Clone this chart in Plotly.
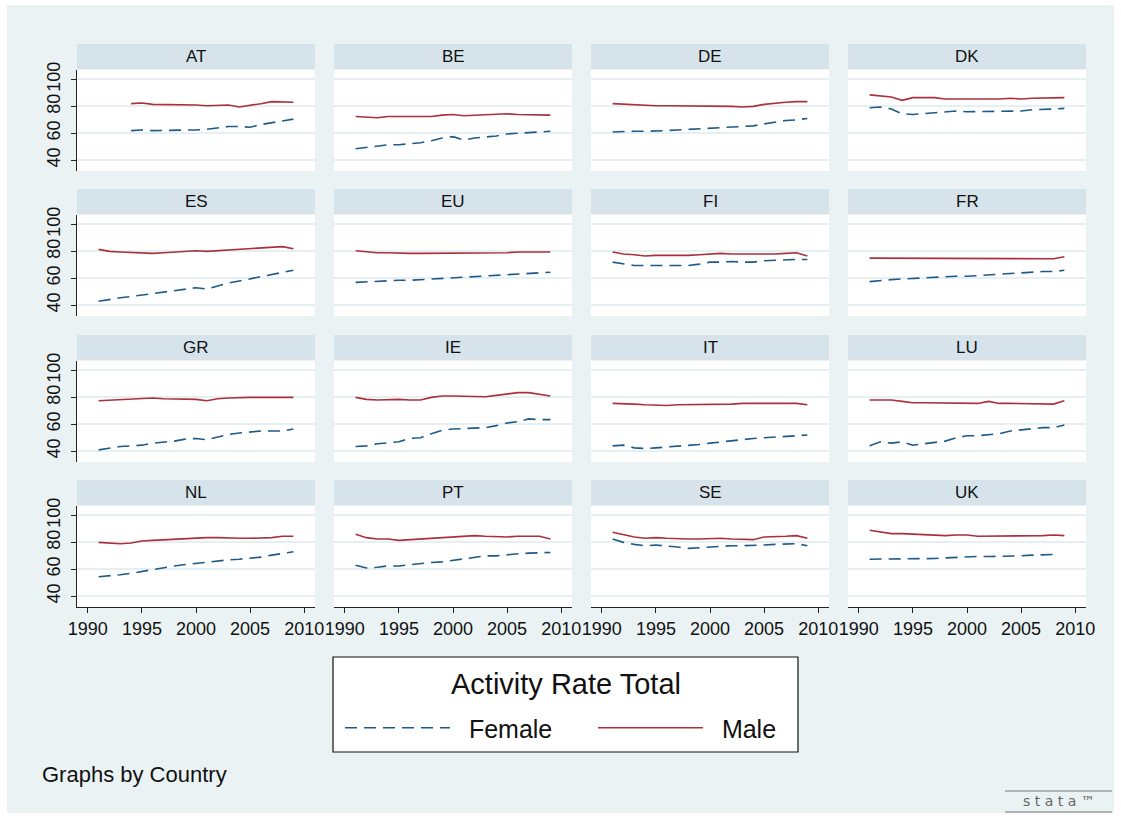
import plotly.graph_objects as go

# ---------------- data ----------------
years = list(range(1991, 2010))
countries = ["AT", "BE", "DE", "DK", "ES", "EU", "FI", "FR",
             "GR", "IE", "IT", "LU", "NL", "PT", "SE", "UK"]

male = {
    "AT": [None, None, None, 82, 82.5, 81.5, 81.5, 81, 81.5, 81, 80.5, 80.5, 81, 79.5, 80.5, 82, 83.5, 83, 83],
    "BE": [72.5, 72, 71.5, 72.5, 72.5, 72.5, 72.5, 72.5, 73.5, 74, 73, 73.5, 73.5, 74, 74.5, 74, 74, 74, 73.5],
    "DE": [82, 81.5, 81, 81, 80.5, 80.5, 80.5, 80.5, 80.5, 80, 80, 80, 79.5, 80, 81.5, 82.5, 83, 83.5, 83.5],
    "DK": [88.5, 88, 87, 84.5, 86.5, 86.5, 86.5, 85.5, 85.5, 85, 85, 85.5, 85.5, 86, 85.5, 86, 86, 86.5, 86.5],
    "ES": [81.5, 80, 79.5, 79, 78.5, 78.5, 79, 79.5, 80, 80.5, 80, 80.5, 81.5, 82, 82.5, 83, 83, 83.5, 82],
    "EU": [80.5, 79.5, 79, 79, 78.5, 78.5, 78.5, 78.5, 78.5, 78.5, 78.5, 78.5, 78.5, 78.5, 79, 79.5, 79.5, 80, 79.5],
    "FI": [79.5, 78, 77.5, 76.5, 77, 77, 76.5, 77, 77.5, 78, 78.5, 78, 78, 77.5, 77.5, 78, 78.5, 79, 76.5],
    "FR": [75, 75, 74.5, 74.5, 74.5, 75, 74.5, 74.5, 74.5, 74.5, 74.5, 74.5, 75, 75, 75, 75, 74.5, 74.5, 76],
    "GR": [77.5, 78, 78, 79, 79.5, 79.5, 79, 79, 78.5, 78.5, 77.5, 79, 79.5, 80, 80, 80, 80, 80, 80],
    "IE": [80, 78.5, 78, 78.5, 78.5, 78, 78, 80, 81, 81, 81, 80.5, 80.5, 81.5, 82.5, 83.5, 83.5, 82.5, 81],
    "IT": [75.5, 75.5, 75, 74.5, 74, 74, 74.5, 74.5, 74.5, 75, 75, 75, 75.5, 75.5, 75, 75.5, 75.5, 75.5, 74.5],
    "LU": [78, 78, 78, 77, 76, 76, 76, 76, 76, 76, 75.5, 77, 75.5, 75.5, 75.5, 75.5, 75, 75, 77.5],
    "NL": [80, 79.5, 79, 79.5, 81, 81.5, 82, 82.5, 82.5, 83, 83.5, 83.5, 83, 83, 83, 83, 83.5, 84.5, 84.5],
    "PT": [86, 83.5, 82.5, 82.5, 81.5, 82, 82, 83, 83, 83.5, 84.5, 85, 84.5, 84, 84, 84.5, 84.5, 84.5, 82.5],
    "SE": [87.5, 85.5, 84, 83, 83.5, 83, 82.5, 82.5, 82.5, 83, 83, 82.5, 82.5, 82, 84, 84, 84.5, 85, 83],
    "UK": [89, 87.5, 86.5, 86.5, 86, 85.5, 85.5, 85, 85.5, 85.5, 84.5, 84.5, 85, 84.5, 84.5, 85, 85, 85.5, 85],
}
female = {
    "AT": [None, None, None, 62, 62.5, 62, 62, 62, 62.5, 62.5, 63, 64, 65, 65, 64.5, 66.5, 68, 69.5, 70.5],
    "BE": [48.5, 49.5, 51, 51.5, 51.5, 52, 53, 54.5, 56.5, 57.5, 55, 56.5, 57, 58, 59.5, 60, 60.5, 61, 61.5],
    "DE": [61, 61.5, 61.5, 61.5, 61.5, 62, 62.5, 63, 63, 64, 64.5, 64.5, 65, 65.5, 67, 68.5, 69.5, 70, 71],
    "DK": [79, 79.5, 78, 74.5, 74, 74.5, 75, 76, 76.5, 76, 76, 76, 76.5, 76.5, 76.5, 77.5, 77.5, 78, 78.5],
    "ES": [43, 44.5, 45.5, 46.5, 47.5, 48.5, 49.5, 50.5, 51.5, 53, 52, 54.5, 56.5, 58, 59.5, 61.5, 63, 64.5, 66],
    "EU": [57, 57.5, 57.5, 58, 58.5, 58.5, 59, 59.5, 60, 60.5, 60.5, 61, 61.5, 62, 62.5, 63, 63.5, 64, 64.5],
    "FI": [72, 70.5, 69.5, 69.5, 69.5, 69.5, 69.5, 69.5, 70.5, 72, 72, 72.5, 72, 72, 73, 73.5, 74, 74, 74],
    "FR": [57.5, 58.5, 59, 59.5, 60, 60.5, 60.5, 61, 61.5, 61.5, 62, 62.5, 63.5, 64, 64, 64.5, 65, 65, 66],
    "GR": [41, 42.5, 43.5, 44, 44.5, 46, 46.5, 47.5, 49, 49.5, 48.5, 50.5, 52.5, 53.5, 54.5, 55, 55, 55, 56.5],
    "IE": [43.5, 44, 45.5, 46, 47, 49.5, 50, 53, 55.5, 56.5, 57, 57.5, 57.5, 59, 61, 62, 64, 63.5, 63.5],
    "IT": [44, 44.5, 42.5, 42, 42.5, 43, 43.5, 44, 45, 46, 47, 47.5, 48.5, 49.5, 50, 50.5, 51, 51.5, 52],
    "LU": [44, 47, 46, 47, 44.5, 45.5, 46.5, 47.5, 50, 51.5, 51.5, 52.5, 53, 55, 56, 57, 57.5, 57.5, 59.5],
    "NL": [54.5, 55, 56, 57, 58.5, 60, 61, 62.5, 63.5, 64.5, 65.5, 66.5, 67, 67.5, 68, 69, 70.5, 72, 73],
    "PT": [63, 61, 61.5, 62.5, 62.5, 63.5, 64.5, 65, 65.5, 66.5, 67.5, 68.5, 70, 70, 71, 71.5, 72, 72.5, 72.5],
    "SE": [82.5, 80, 78.5, 77.5, 78, 77.5, 76.5, 75.5, 76, 77, 77.5, 77.5, 77.5, 77.5, 78, 78.5, 78.5, 79, 77.5],
    "UK": [67.5, 67.5, 67.5, 67.5, 67.5, 68, 68, 68.5, 69, 69.5, 69.5, 69.5, 69.5, 69.5, 70, 70.5, 71, 71, None],
}
x_ticks = [1990, 1995, 2000, 2005, 2010]
y_ticks = [40, 60, 80, 100]
legend_title = "Activity Rate Total"
note_text = "Graphs by Country"

# ---------------- style / geometry ----------------
W, H = 1121, 818
FONT = "Liberation Sans"
BG = "#EAF2F3"
STRIP = "#D6E3EA"
GRID = "#E6EFF1"
MALE_C = "#AC303C"
FEMALE_C = "#1E5A88"
col_x0 = [77, 334, 591, 848]
row_top = [70, 215, 361, 506]
PW, PH = 238, 101
STRIP_H = 25
NB = "\u00a0"


def fx(px):
    return px / W


def fy(py):
    return 1 - py / H


fig = go.Figure()
shapes = []
annotations = []

# white outer border around the light graph region
shapes += [
    dict(type="rect", xref="paper", yref="paper", x0=0, x1=1, y0=fy(5), y1=1,
         fillcolor="white", line_width=0, layer="below"),
    dict(type="rect", xref="paper", yref="paper", x0=0, x1=1, y0=0, y1=fy(813),
         fillcolor="white", line_width=0, layer="below"),
    dict(type="rect", xref="paper", yref="paper", x0=0, x1=fx(7), y0=0, y1=1,
         fillcolor="white", line_width=0, layer="below"),
    dict(type="rect", xref="paper", yref="paper", x0=fx(1114), x1=1, y0=0, y1=1,
         fillcolor="white", line_width=0, layer="below"),
]

for i, c in enumerate(countries):
    r, col = divmod(i, 4)
    k = i + 1
    xs = "" if k == 1 else str(k)
    x0 = col_x0[col]
    top = row_top[r]
    fig.add_trace(go.Scatter(
        x=years, y=female[c], mode="lines", name=NB + NB + "Female", legendgroup="f",
        showlegend=(i == 0), xaxis="x" + xs, yaxis="y" + xs,
        line=dict(color=FEMALE_C, width=1.6, dash="12px,7px"),
        hoverinfo="skip"))
    fig.add_trace(go.Scatter(
        x=years, y=male[c], mode="lines", name=NB + NB + "Male", legendgroup="m",
        showlegend=(i == 0), xaxis="x" + xs, yaxis="y" + xs,
        line=dict(color=MALE_C, width=1.6),
        hoverinfo="skip"))

    bottom_row = (r == 3)
    first_col = (col == 0)
    fig.layout["xaxis" + xs] = dict(
        domain=[fx(x0), fx(x0 + PW)], anchor="y" + xs, range=[1989, 2011],
        tickvals=x_ticks, showticklabels=bottom_row, showgrid=False, zeroline=False,
        showline=bottom_row, linecolor="#222", linewidth=1, automargin=False,
        ticks="outside" if bottom_row else "", ticklen=5, tickcolor="#222",
        tickfont=dict(family=FONT, size=18, color="#111"), fixedrange=True)
    fig.layout["yaxis" + xs] = dict(
        domain=[fy(top + PH), fy(top)], anchor="x" + xs, range=[32, 107],
        tickvals=y_ticks, showticklabels=first_col, showgrid=True,
        gridcolor=GRID, gridwidth=1.5, zeroline=False, automargin=False,
        showline=first_col, linecolor="#222", linewidth=1,
        ticks="outside" if first_col else "", ticklen=5, tickcolor="#222",
        tickangle=-90, ticklabelstandoff=4,
        tickfont=dict(family=FONT, size=18, color="#111"), fixedrange=True)

    # strip header
    shapes.append(dict(type="rect", xref="paper", yref="paper",
                       x0=fx(x0), x1=fx(x0 + PW), y0=fy(top - 1), y1=fy(top - 1 - STRIP_H),
                       fillcolor=STRIP, line_width=0, layer="below"))
    annotations.append(dict(text=c, xref="paper", yref="paper",
                            x=fx(x0 + PW / 2), y=fy(top - 1 - STRIP_H / 2),
                            xanchor="center", yanchor="middle", showarrow=False,
                            font=dict(family=FONT, size=17, color="#111")))

# legend box and its title
shapes.append(dict(type="rect", xref="paper", yref="paper",
                   x0=fx(333), x1=fx(798), y0=fy(752), y1=fy(657),
                   fillcolor="white", line=dict(color="#111", width=1.2), layer="below"))
annotations.append(dict(text=legend_title, xref="paper", yref="paper",
                        x=fx(566), y=fy(684), xanchor="center", yanchor="middle",
                        showarrow=False, font=dict(family=FONT, size=29, color="#111")))

annotations.append(dict(text=note_text, xref="paper", yref="paper",
                        x=fx(40), y=fy(774), xanchor="left", yanchor="middle",
                        showarrow=False, font=dict(family=FONT, size=22, color="#111")))
# Stata logo
annotations.append(dict(text="s t a t a ™", xref="paper", yref="paper",
                        x=fx(1059), y=fy(801), xanchor="center", yanchor="middle",
                        showarrow=False, font=dict(family="DejaVu Sans", size=14, color="#666")))
shapes += [
    dict(type="line", xref="paper", yref="paper", x0=fx(1005), x1=fx(1112),
         y0=fy(791), y1=fy(791), line=dict(color="#777", width=1)),
    dict(type="line", xref="paper", yref="paper", x0=fx(1005), x1=fx(1112),
         y0=fy(812), y1=fy(812), line=dict(color="#777", width=1)),
]

fig.update_layout(
    width=W, height=H, autosize=False,
    margin=dict(l=0, r=0, t=0, b=0, pad=0, autoexpand=False),
    paper_bgcolor=BG, plot_bgcolor="white",
    shapes=shapes, annotations=annotations,
    font=dict(family=FONT, color="#111"),
    showlegend=True,
    legend=dict(
        orientation="h", x=fx(340), y=fy(728), xanchor="left", yanchor="middle",
        bgcolor="rgba(0,0,0,0)", borderwidth=0,
        font=dict(family=FONT, size=25, color="#111"),
        itemwidth=105, entrywidth=133, itemclick=False, itemdoubleclick=False,
    ),
)

page_fix = (
    "var gd=document.getElementById('{plot_id}');"
    "gd.style.position='absolute';gd.style.left='0px';gd.style.top='0px';"
    "var de=document.documentElement;de.style.margin='0';de.style.padding='0';de.style.overflow='hidden';"
    "var b=document.body;b.style.margin='0';b.style.padding='0';b.style.overflow='hidden';"
    "b.style.width='1121px';b.style.height='818px';"
)

fig.write_html("out.html", config={"displayModeBar": False}, post_script=page_fix)
